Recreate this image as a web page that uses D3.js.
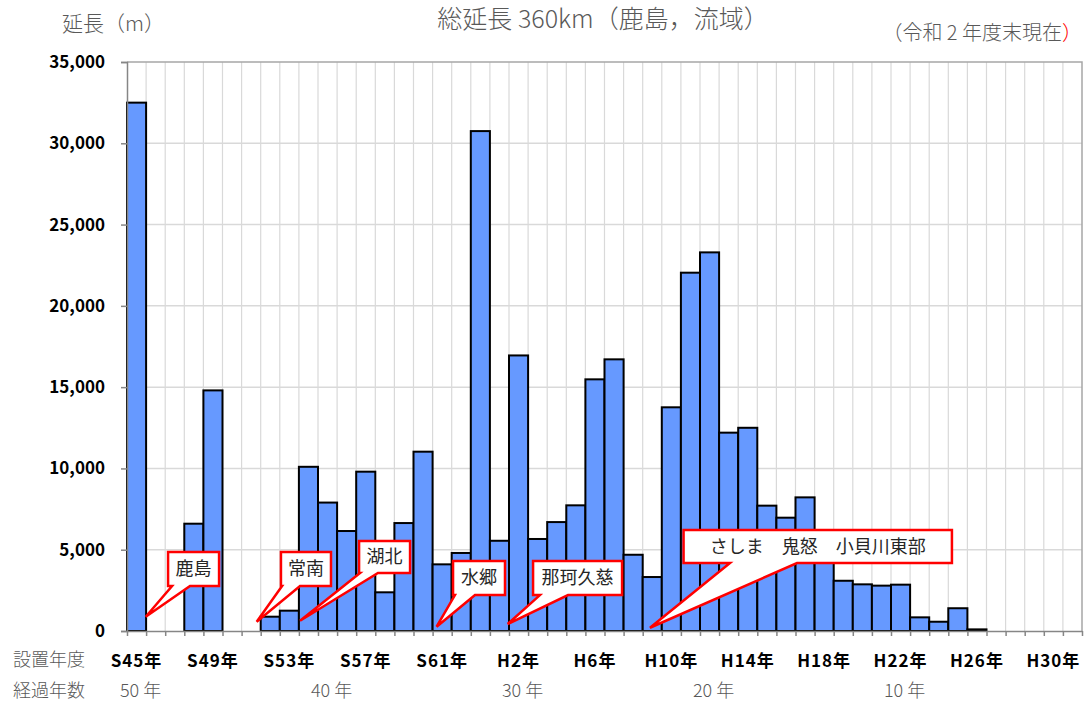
<!DOCTYPE html>
<html>
<head>
<meta charset="utf-8">
<script src="https://cdn.jsdelivr.net/npm/d3@7/dist/d3.min.js"></script>
<style>
body { margin: 0; background: #fff; }
text { font-family: "Noto Sans CJK JP", sans-serif; }
</style>
</head>
<body>
<div id="chart"></div>
<script>
// svg parameters
var svgWidth = 1084;
var svgHeight = 702;
var padding = {"top": 62, "bottom": 71, "left": 127, "right": 2};

// 設置年度 S45 (1970) .. R1 (2019), one column per year
var years = d3.range(1970, 2020);
var lengths = [
	32500, 0, 0, 6600, 14800, 0, 0, 880, 1250, 10100,
	7900, 6150, 9800, 2380, 6640, 11030, 4100, 4800, 30750, 5550,
	16950, 5660, 6700, 7730, 15480, 16710, 4690, 3320, 13760, 22040,
	23290, 12200, 12500, 7710, 6970, 8220, 4700, 3090, 2870, 2790,
	2850, 840, 570, 1400, 100, 0, 0, 0, 0, 0
];
var yTicks = [0, 5000, 10000, 15000, 20000, 25000, 30000, 35000];
var tickYears = [1970, 1974, 1978, 1982, 1986, 1990, 1994, 1998, 2002, 2006, 2010, 2014, 2018];
var tickLabels = ["S45年", "S49年", "S53年", "S57年", "S61年", "H2年", "H6年", "H10年", "H14年", "H18年", "H22年", "H26年", "H30年"];
var elapsedYears = [1970, 1980, 1990, 2000, 2010];
var elapsedLabels = ["50 年", "40 年", "30 年", "20 年", "10 年"];

// callouts: tip and box in data units (column index, length)
var callouts = [
	{text: "鹿島", tip: [0.98, 880], box: [2.15, 4.82, 4860, 2770], base: [2.36, 3.30]},
	{text: "常南", tip: [6.79, 570], box: [8.06, 10.68, 4860, 2770], base: [8.12, 9.06]},
	{text: "湖北", tip: [9.06, 630], box: [12.15, 14.82, 5540, 3570], base: [12.2, 13.14]},
	{text: "水郷", tip: [16.21, 265], box: [17.07, 19.79, 4310, 2210], base: [17.17, 18.22]},
	{text: "那珂久慈", tip: [19.93, 430], box: [21.26, 25.92, 4310, 2210], base: [21.62, 23.09]},
	{text: "さしま　鬼怒　小貝川東部", tip: [27.38, 200], box: [29.14, 43.19, 6210, 4180], base: [31.57, 35.08]}
];

var svg = d3.select("#chart").append("svg")
	.attr("width", svgWidth)
	.attr("height", svgHeight);

var plotBottom = svgHeight - padding.bottom;
var plotRight = svgWidth - padding.right;

var xScale = d3.scaleBand().domain(years).range([padding.left, plotRight]).padding(0);
var xPos = d3.scaleLinear().domain([0, years.length]).range([padding.left, plotRight]);
var yScale = d3.scaleLinear().domain([0, 35000]).range([plotBottom, padding.top]);

// grid
svg.append("g").selectAll("line")
	.data(d3.range(1, years.length))
	.enter().append("line")
	.attr("x1", function(d) { return xPos(d); })
	.attr("x2", function(d) { return xPos(d); })
	.attr("y1", padding.top)
	.attr("y2", plotBottom)
	.attr("stroke", "#d9d9d9")
	.attr("stroke-width", 1.2);

svg.append("g").selectAll("line")
	.data(yTicks.slice(1, -1))
	.enter().append("line")
	.attr("x1", padding.left)
	.attr("x2", plotRight)
	.attr("y1", function(d) { return yScale(d); })
	.attr("y2", function(d) { return yScale(d); })
	.attr("stroke", "#d9d9d9")
	.attr("stroke-width", 1.5);

// top / right border
svg.append("path")
	.attr("d", "M" + padding.left + "," + padding.top + "H" + plotRight + "V" + plotBottom)
	.attr("fill", "none")
	.attr("stroke", "#a6a6a6")
	.attr("stroke-width", 1.5);

// bars
svg.append("g").selectAll("rect")
	.data(years.map(function(y, i) { return {year: y, value: lengths[i]}; }).filter(function(d) { return d.value > 0; }))
	.enter().append("rect")
	.attr("x", function(d) { return xScale(d.year); })
	.attr("width", xScale.bandwidth())
	.attr("y", function(d) { return yScale(d.value); })
	.attr("height", function(d) { return plotBottom - yScale(d.value); })
	.attr("fill", "#6699ff")
	.attr("stroke", "#000")
	.attr("stroke-width", 2);

// axes
var yAxis = d3.axisLeft(yScale).tickValues(yTicks).tickFormat(d3.format(",")).tickSize(6).tickPadding(16);
var gy = svg.append("g")
	.attr("transform", "translate(" + padding.left + ",0)")
	.call(yAxis);
gy.selectAll(".domain, line").attr("stroke", "#868686").attr("stroke-width", 1.5);
gy.selectAll("text")
	.attr("font-family", "'Liberation Sans', Arial, sans-serif")
	.attr("font-weight", "bold")
	.attr("font-size", 17)
	.attr("fill", "#000");

var xAxis = d3.axisBottom(xPos).tickValues(d3.range(0, years.length + 1)).tickFormat("").tickSizeInner(5).tickSizeOuter(0);
var gx = svg.append("g")
	.attr("transform", "translate(0," + plotBottom + ")")
	.call(xAxis);
gx.selectAll(".domain, line").attr("stroke", "#868686").attr("stroke-width", 1.5);

svg.append("g").selectAll("text")
	.data(tickYears)
	.enter().append("text")
	.attr("x", function(d) { return xScale(d) + xScale.bandwidth() / 2; })
	.attr("y", 667)
	.attr("text-anchor", "middle")
	.attr("font-family", "'Liberation Sans', 'Noto Sans CJK JP', sans-serif")
	.attr("font-weight", "bold")
	.attr("font-size", 17)
	.attr("letter-spacing", 1)
	.attr("fill", "#000")
	.text(function(d, i) { return tickLabels[i]; });

svg.append("g").selectAll("text")
	.data(elapsedYears)
	.enter().append("text")
	.attr("x", function(d) { return xScale(d) + xScale.bandwidth() / 2 + 4; })
	.attr("y", 697)
	.attr("text-anchor", "middle")
	.attr("font-size", 18)
	.attr("font-weight", 300)
	.attr("fill", "#595959")
	.text(function(d, i) { return elapsedLabels[i]; });

svg.append("text").attr("x", 13).attr("y", 666).attr("font-size", 18).attr("font-weight", 300).attr("fill", "#595959").text("設置年度");
svg.append("text").attr("x", 13).attr("y", 697).attr("font-size", 18).attr("font-weight", 300).attr("fill", "#595959").text("経過年数");

// titles
svg.append("text")
	.attr("x", 603)
	.attr("y", 28)
	.attr("text-anchor", "middle")
	.attr("font-size", 25)
	.attr("font-weight", 300)
	.attr("fill", "#595959")
	.text("総延長 360km（鹿島，流域）");

svg.append("text")
	.attr("x", 62)
	.attr("y", 31)
	.attr("font-size", 21)
	.attr("font-weight", 300)
	.attr("fill", "#595959")
	.text("延長（m）");

var note = svg.append("text")
	.attr("x", 1082)
	.attr("y", 40)
	.attr("text-anchor", "end")
	.attr("font-size", 20)
	.attr("font-weight", 300)
	.attr("fill", "#595959");
note.append("tspan").text("（令和 2 年度末現在");
note.append("tspan").attr("fill", "#ff0000").text("）");

// callouts
var cg = svg.append("g").selectAll("g")
	.data(callouts)
	.enter().append("g");

cg.append("path")
	.attr("d", function(d) {
		var x0 = xPos(d.box[0]), x1 = xPos(d.box[1]);
		var y0 = yScale(d.box[2]), y1 = yScale(d.box[3]);
		return "M" + x0 + "," + y0 + "H" + x1 + "V" + y1 +
			"H" + xPos(d.base[1]) + "L" + xPos(d.tip[0]) + "," + yScale(d.tip[1]) +
			"L" + xPos(d.base[0]) + "," + y1 + "H" + x0 + "Z";
	})
	.attr("fill", "#fff")
	.attr("stroke", "#ff0000")
	.attr("stroke-width", 2.5)
	.attr("stroke-linejoin", "miter");

cg.append("text")
	.attr("x", function(d) { return (xPos(d.box[0]) + xPos(d.box[1])) / 2; })
	.attr("y", function(d) { return (yScale(d.box[2]) + yScale(d.box[3])) / 2; })
	.attr("dy", "0.36em")
	.attr("text-anchor", "middle")
	.attr("font-size", 18)
	.attr("fill", "#262626")
	.text(function(d) { return d.text; });
</script>
</body>
</html>
